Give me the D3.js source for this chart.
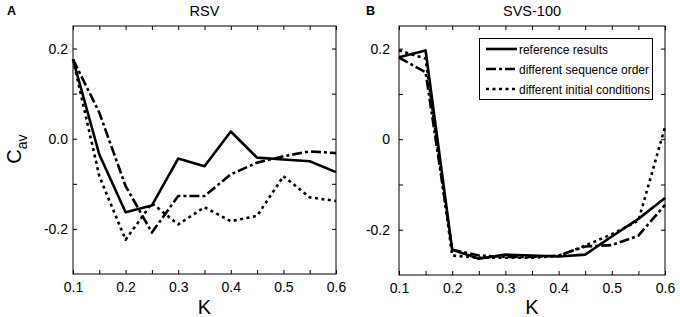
<!DOCTYPE html>
<html>
<head>
<meta charset="utf-8">
<script src="https://cdn.jsdelivr.net/npm/d3@7"></script>
<style>
  body { margin: 0; background: #fff; }
  svg { font-family: "Liberation Sans", Arial, sans-serif; }
  .axis path { display: none; }
  .axis line { stroke: #000; }
  .axis text { font-size: 14px; fill: #000; }
</style>
</head>
<body>
<div id="chart"></div>
<script>
const kValues = [0.1, 0.15, 0.2, 0.25, 0.3, 0.35, 0.4, 0.45, 0.5, 0.55, 0.6];

// panel A (RSV)
const rsvReference = [0.176, -0.035, -0.163, -0.148, -0.044, -0.061, 0.016, -0.042, -0.046, -0.05, -0.074];
const rsvOrder     = [0.176, 0.058, -0.105, -0.208, -0.127, -0.127, -0.079, -0.053, -0.039, -0.028, -0.032];
const rsvInitial   = [0.176, -0.083, -0.224, -0.143, -0.19, -0.152, -0.183, -0.171, -0.083, -0.13, -0.138];

// panel B (SVS-100)
const svsReference = [0.181, 0.196, -0.244, -0.264, -0.255, -0.257, -0.259, -0.255, -0.215, -0.176, -0.13];
const svsOrder     = [0.18, 0.148, -0.244, -0.257, -0.26, -0.26, -0.257, -0.237, -0.234, -0.213, -0.145];
const svsInitial   = [0.196, 0.178, -0.257, -0.262, -0.262, -0.262, -0.258, -0.235, -0.21, -0.18, 0.027];

const legendLabels = ['reference results', 'different sequence order', 'different initial conditions'];
const xTicks = [0.1, 0.15, 0.2, 0.25, 0.3, 0.35, 0.4, 0.45, 0.5, 0.55, 0.6];
const yTicks = [-0.2, -0.1, 0, 0.1, 0.2];
const yLabelsA = {'-0.2': '-0.2', '0': '0.0', '0.2': '0.2'};
const yLabelsB = {'-0.2': '-0.2', '0': '0', '0.2': '0.2'};

const width = 680, height = 317;
const styles = [
  { dash: null },
  { dash: '10,3,3,3' },
  { dash: '3,3.5' }
];

const svg = d3.select('#chart').append('svg')
  .attr('width', width)
  .attr('height', height);

const panel = (box, title, letter, letterX, series, yLabels, labelGap) => {
  const x = d3.scaleLinear().domain([0.1, 0.6]).range([box.left, box.right]);
  const y = d3.scaleLinear().domain([-0.3, 0.25]).range([box.bottom, box.top]);

  const xfmt = d => (Math.round(d * 100) % 10 === 0 ? d3.format('.1f')(d) : '');
  const yfmt = d => yLabels[String(Math.round(d * 10) / 10)] || '';

  svg.append('g').attr('class', 'axis')
    .attr('transform', `translate(0,${box.bottom})`)
    .call(d3.axisBottom(x).tickValues(xTicks).tickSize(-4).tickPadding(8).tickFormat(xfmt));
  svg.append('g').attr('class', 'axis')
    .attr('transform', `translate(0,${box.top})`)
    .call(d3.axisTop(x).tickValues(xTicks).tickSize(-4).tickFormat(''));
  svg.append('g').attr('class', 'axis')
    .attr('transform', `translate(${box.left},0)`)
    .call(d3.axisLeft(y).tickValues(yTicks).tickSize(-4).tickPadding(labelGap).tickFormat(yfmt));
  svg.append('g').attr('class', 'axis')
    .attr('transform', `translate(${box.right},0)`)
    .call(d3.axisRight(y).tickValues(yTicks).tickSize(-4).tickFormat(''));

  svg.append('rect')
    .attr('x', box.left).attr('y', box.top)
    .attr('width', box.right - box.left).attr('height', box.bottom - box.top)
    .attr('fill', 'none').attr('stroke', '#000').attr('stroke-width', 1);

  const line = d3.line().x((d, i) => x(kValues[i])).y(d => y(d));
  series.forEach((s, i) => {
    svg.append('path')
      .datum(s)
      .attr('d', line)
      .attr('fill', 'none')
      .attr('stroke', '#000')
      .attr('stroke-width', 2.6)
      .attr('stroke-linejoin', 'round')
      .attr('stroke-dasharray', styles[i].dash);
  });

  svg.append('text')
    .attr('x', (box.left + box.right) / 2).attr('y', 16)
    .attr('text-anchor', 'middle').attr('font-size', 14.5)
    .text(title);
  svg.append('text')
    .attr('x', letterX).attr('y', 15)
    .attr('font-size', 12.5).attr('font-weight', 'bold')
    .text(letter);
  svg.append('text')
    .attr('x', (box.left + box.right) / 2).attr('y', 314)
    .attr('text-anchor', 'middle').attr('font-size', 20)
    .text('K');

  return { x, y };
};

panel({ left: 73, right: 336, top: 26, bottom: 274 }, 'RSV', 'A', 7,
  [rsvReference, rsvOrder, rsvInitial], yLabelsA, 5);
panel({ left: 399, right: 665, top: 26, bottom: 275 }, 'SVS-100', 'B', 366,
  [svsReference, svsOrder, svsInitial], yLabelsB, 9);

// y axis label
const ylab = svg.append('text')
  .attr('transform', 'translate(21,149) rotate(-90)')
  .attr('text-anchor', 'middle')
  .attr('font-size', 20);
ylab.append('tspan').text('C');
ylab.append('tspan').attr('font-size', 14).attr('dy', 6).text('av');

// legend
const lg = svg.append('g');
lg.append('rect')
  .attr('x', 479.5).attr('y', 38.5).attr('width', 173).attr('height', 61)
  .attr('fill', '#fff').attr('stroke', '#000').attr('stroke-width', 1);
const textWidths = [89, 130, 131];
legendLabels.forEach((label, i) => {
  const yy = 49 + i * 20;
  lg.append('line')
    .attr('x1', 486).attr('x2', 517).attr('y1', yy).attr('y2', yy)
    .attr('stroke', '#000').attr('stroke-width', 2.6)
    .attr('stroke-dasharray', styles[i].dash);
  lg.append('text')
    .attr('x', 519).attr('y', yy + 4.5)
    .attr('font-size', 12.5)
    .attr('textLength', textWidths[i])
    .attr('lengthAdjust', 'spacingAndGlyphs')
    .text(label);
});
</script>
</body>
</html>
